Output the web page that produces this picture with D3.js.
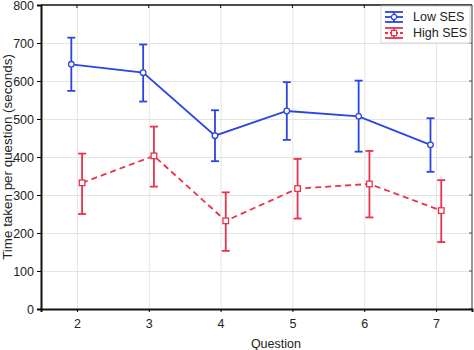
<!DOCTYPE html>
<html>
<head>
<meta charset="utf-8">
<script src="https://d3js.org/d3.v7.min.js"></script>
<style>
    body { margin: 0; background: #fff; }
    text { font-family: "Liberation Sans", Arial, sans-serif; fill: #222; }
    .grid line { stroke: #e4e4e4; stroke-width: 1px; }
    .grid path { stroke-width: 0; }
</style>
</head>
<body>
<svg id="chart" width="474" height="350"></svg>
<script>
    // data
    const questions = [2, 3, 4, 5, 6, 7];
    const lowMean = [644, 622, 456, 521, 507, 432];
    const lowUpper = [714, 696, 523, 597, 601, 502];
    const lowLower = [574, 546, 389, 445, 414, 361];
    const highMean = [332, 403, 232, 317, 329, 259];
    const highUpper = [409, 480, 307, 395, 416, 339];
    const highLower = [250, 322, 153, 238, 241, 176];
    const yTicks = [0, 100, 200, 300, 400, 500, 600, 700, 800];

    const series = [
        { name: "Low SES", mean: lowMean, upper: lowUpper, lower: lowLower, color: "#2b45e3", dash: null, marker: "circle", offset: -0.078 },
        { name: "High SES", mean: highMean, upper: highUpper, lower: highLower, color: "#e8334d", dash: "6,4", marker: "square", offset: 0.072 }
    ];

    const svg = d3.select("#chart");
    const margin = { top: 5, right: 2, bottom: 41, left: 41 };
    const width = 474 - margin.left - margin.right;
    const height = 350 - margin.top - margin.bottom;

    const x = d3.scaleLinear().domain([1.5, 7.5]).range([0, width]);
    const y = d3.scaleLinear().domain([0, 800]).range([height, 0]);

    const g = svg.append("g").attr("transform", `translate(${margin.left},${margin.top})`);

    // сетка
    g.append("g").attr("class", "grid")
        .call(d3.axisLeft(y).tickValues(yTicks.slice(1, -1)).tickSize(-width).tickFormat(""));
    g.append("g").attr("class", "grid")
        .attr("transform", `translate(0,${height})`)
        .call(d3.axisBottom(x).tickValues(questions).tickSize(-height).tickFormat(""));

    // рамка: верх и право
    g.append("line").attr("x1", 0).attr("x2", width).attr("y1", 0).attr("y2", 0)
        .attr("stroke", "#111").attr("stroke-width", 1.5);
    g.append("line").attr("x1", width).attr("x2", width).attr("y1", 0).attr("y2", height)
        .attr("stroke", "#777").attr("stroke-width", 1.5);
    g.selectAll(".top-tick").data(questions).enter().append("line")
        .attr("x1", d => x(d)).attr("x2", d => x(d)).attr("y1", 0).attr("y2", 3)
        .attr("stroke", "#111");
    g.selectAll(".right-tick").data(yTicks).enter().append("line")
        .attr("x1", width).attr("x2", width - 3).attr("y1", d => y(d)).attr("y2", d => y(d))
        .attr("stroke", "#555");

    // оси
    const yAxis = g.append("g")
        .call(d3.axisLeft(y).tickValues(yTicks).tickSize(4).tickPadding(3));
    yAxis.select(".domain").attr("stroke", "#111").attr("stroke-width", 2);
    yAxis.selectAll("text").style("font-size", "12.5px").attr("fill", "#222");

    const xAxis = g.append("g").attr("transform", `translate(0,${height})`)
        .call(d3.axisBottom(x).tickValues(questions).tickFormat(d3.format("d")).tickSize(3).tickPadding(7));
    xAxis.select(".domain").attr("stroke", "#111").attr("stroke-width", 2);
    xAxis.selectAll("text").style("font-size", "12.5px").attr("fill", "#222");

    // подписи осей
    svg.append("text")
        .attr("x", margin.left + x(4.77)).attr("y", 348)
        .attr("text-anchor", "middle").style("font-size", "12.5px")
        .text("Question");
    svg.append("text")
        .attr("transform", `translate(12,${margin.top + y(400)}) rotate(-90)`)
        .attr("text-anchor", "middle").style("font-size", "13.4px")
        .text("Time taken per question (seconds)");

    // линии, ошибки, маркеры
    series.forEach(s => {
        const pts = questions.map((q, i) => ({ q: q + s.offset, m: s.mean[i], hi: s.upper[i], lo: s.lower[i] }));
        const line = d3.line().x(d => x(d.q)).y(d => y(d.m));
        g.append("path").datum(pts)
            .attr("fill", "none").attr("stroke", s.color).attr("stroke-width", 1.8)
            .attr("stroke-dasharray", s.dash)
            .attr("d", line);

        g.selectAll(null).data(pts).enter().append("line")
            .attr("x1", d => x(d.q)).attr("x2", d => x(d.q))
            .attr("y1", d => y(d.hi)).attr("y2", d => y(d.lo))
            .attr("stroke", s.color).attr("stroke-width", 1.8);
        ["hi", "lo"].forEach(k => {
            g.selectAll(null).data(pts).enter().append("line")
                .attr("x1", d => x(d.q) - 4).attr("x2", d => x(d.q) + 4)
                .attr("y1", d => y(d[k])).attr("y2", d => y(d[k]))
                .attr("stroke", s.color).attr("stroke-width", 1.8);
        });

        if (s.marker === "circle") {
            g.selectAll(null).data(pts).enter().append("circle")
                .attr("cx", d => x(d.q)).attr("cy", d => y(d.m)).attr("r", 2.8)
                .attr("fill", "#fff").attr("stroke", s.color).attr("stroke-width", 1.3);
        } else {
            g.selectAll(null).data(pts).enter().append("rect")
                .attr("x", d => x(d.q) - 2.8).attr("y", d => y(d.m) - 2.8)
                .attr("width", 5.6).attr("height", 5.6)
                .attr("fill", "#fff").attr("stroke", s.color).attr("stroke-width", 1.3);
        }
    });

    // легенда
    const leg = svg.append("g").attr("transform", "translate(381,6)");
    leg.append("rect").attr("x", 0).attr("y", 0).attr("width", 89).attr("height", 37)
        .attr("fill", "#fff").attr("stroke", "#ccc").attr("stroke-width", 0.8);
    series.forEach((s, i) => {
        const cy = 11 + i * 16;
        const row = leg.append("g").attr("transform", `translate(0,${cy})`);
        row.append("line").attr("x1", 4).attr("x2", 22).attr("y1", 0).attr("y2", 0)
            .attr("stroke", s.color).attr("stroke-width", 1.8).attr("stroke-dasharray", s.dash ? "3,2" : null);
        row.append("line").attr("x1", 4).attr("x2", 22).attr("y1", -5).attr("y2", -5)
            .attr("stroke", s.color).attr("stroke-width", 1.8);
        row.append("line").attr("x1", 4).attr("x2", 22).attr("y1", 5).attr("y2", 5)
            .attr("stroke", s.color).attr("stroke-width", 1.8);
        row.append("line").attr("x1", 13).attr("x2", 13).attr("y1", -5).attr("y2", 5)
            .attr("stroke", s.color).attr("stroke-width", 1.8);
        if (s.marker === "circle") {
            row.append("circle").attr("cx", 13).attr("cy", 0).attr("r", 2.6)
                .attr("fill", "#fff").attr("stroke", s.color).attr("stroke-width", 1.2);
        } else {
            row.append("rect").attr("x", 10.4).attr("y", -2.6).attr("width", 5.2).attr("height", 5.2)
                .attr("fill", "#fff").attr("stroke", s.color).attr("stroke-width", 1.2);
        }
        row.append("text").attr("x", 32).attr("y", 0).attr("dy", "0.35em")
            .style("font-size", "12.5px").text(s.name);
    });
</script>
</body>
</html>
